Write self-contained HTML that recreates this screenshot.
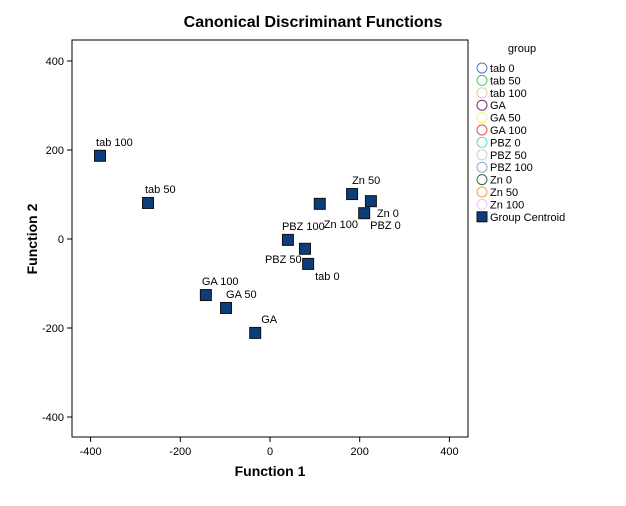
<!DOCTYPE html>
<html><head><meta charset="utf-8"><style>
body{margin:0;background:#fff;font-family:"Liberation Sans",sans-serif}
svg text{font-family:"Liberation Sans",sans-serif}
</style></head><body>
<svg id="c" width="626" height="501">
<text x="313" y="27" text-anchor="middle" font-size="16" font-weight="bold">Canonical Discriminant Functions</text>
<rect x="72" y="40" width="396" height="397" fill="#fff" stroke="#000" stroke-width="1"/>
<text x="270" y="476" text-anchor="middle" font-size="14" font-weight="bold">Function 1</text>
<text transform="translate(37,239) rotate(-90)" text-anchor="middle" font-size="14" font-weight="bold">Function 2</text>
<g id="axes"></g><g id="marks"></g><g id="legend"></g>
</svg>
<script>
const groups=["tab 100","tab 50","Zn 50","Zn 0","Zn 100","PBZ 0","PBZ 100","PBZ 50","tab 0","GA 100","GA 50","GA"];
const fn1=[-379,-272,183,225,111,210,40,78,85,-143,-98,-33];
const fn2=[187,81,101,85,79,58,-2,-22,-56,-126,-155,-211];
const ticks=[-400,-200,0,200,400];
const legendNames=["tab 0","tab 50","tab 100","GA","GA 50","GA 100","PBZ 0","PBZ 50","PBZ 100","Zn 0","Zn 50","Zn 100"];
const legendColors=["#5b73c9","#4cc95b","#d9d0a8","#7a2b86","#f5f27a","#ee4b4b","#5fd6d6","#cfcfcf","#8ab0e0","#2e6b3c","#f5a03a","#e3c9f2"];
const labelOff=[[-4,-10,"start"],[-3,-10,"start"],[0,-10,"start"],[6,16,"start"],[4,24,"start"],[6,16,"start"],[-6,-10,"start"],[-40,14,"start"],[7,16,"start"],[-4,-10,"start"],[0,-10,"start"],[6,-10,"start"]];
const X=v=>270+v*0.4485, Y=v=>239-v*0.445;
const NS="http://www.w3.org/2000/svg";
function mk(p,t,a){const e=document.createElementNS(NS,t);for(const k in a)e.setAttribute(k,a[k]);p.appendChild(e);return e;}
const ax=document.getElementById('axes');
ticks.forEach(t=>{
 let l=mk(ax,'line',{x1:X(t),x2:X(t),y1:437,y2:442,stroke:'#000'});
 
 
 let tx=mk(ax,'text',{x:X(t),y:455,'text-anchor':'middle','font-size':11});tx.textContent=t;
 
 
 let l2=mk(ax,'line',{x1:67,x2:72,y1:Y(t),y2:Y(t),stroke:'#000'});
 
 
 let ty=mk(ax,'text',{x:64,y:Y(t)+4,'text-anchor':'end','font-size':11});ty.textContent=t;
 
 
});
const mg=document.getElementById('marks');
groups.forEach((g,i)=>{
 const x=X(fn1[i]),y=Y(fn2[i]);
 let r=mk(mg,'rect',{x:x-5.5,y:y-5.5,width:11,height:11,fill:'#0b3d7a',stroke:'#111','stroke-width':1});
 
 
 let t=mk(mg,'text',{x:x+labelOff[i][0],y:y+labelOff[i][1],'font-size':11,'text-anchor':labelOff[i][2]});t.textContent=g;
 
 
});
const lg=document.getElementById('legend');
let h=mk(lg,'text',{x:522,y:52,'text-anchor':'middle','font-size':11});h.textContent='group';


const step=12.4;
legendNames.forEach((n,i)=>{
 const y=68+i*step;
 let c=mk(lg,'circle',{cx:482,cy:y,r:5,fill:'none',stroke:legendColors[i],'stroke-width':1});
 
 
 let t=mk(lg,'text',{x:490,y:y+4,'font-size':11});t.textContent=n;
 
 
});
const yc=68+12*step;
let r=mk(lg,'rect',{x:477,y:yc-5,width:10,height:10,fill:'#0b3d7a',stroke:'#111'});


let t=mk(lg,'text',{x:490,y:yc+4,'font-size':11});t.textContent='Group Centroid';


</script>
</body></html>
